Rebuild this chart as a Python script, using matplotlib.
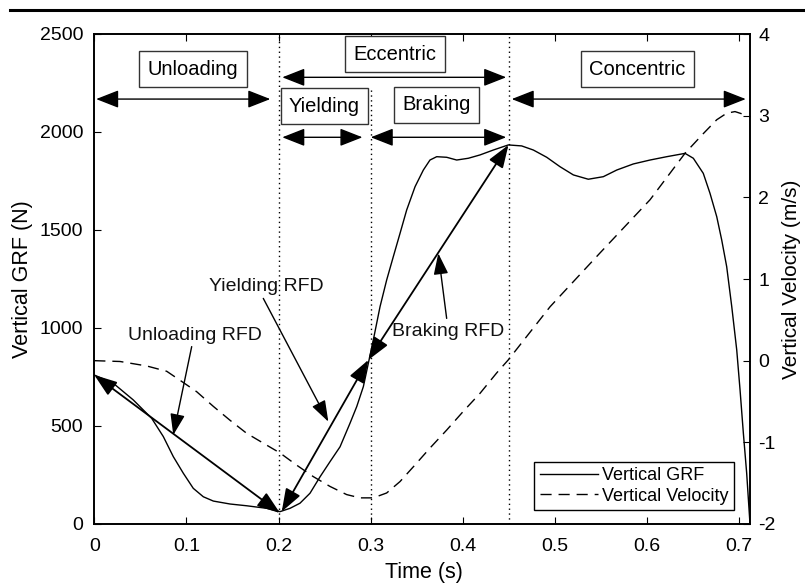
import matplotlib
matplotlib.use("Agg")
import matplotlib.pyplot as plt
from matplotlib.lines import Line2D

plt.rcParams['font.family'] = ['Liberation Sans', 'DejaVu Sans']
plt.rcParams['axes.unicode_minus'] = False

# ---- data ----
grf_t = [0.0, 0.0206, 0.0423, 0.0623, 0.0749, 0.0857, 0.0966, 0.1074, 0.1183, 0.1292,
         0.1473, 0.1654, 0.1871, 0.2015, 0.2124, 0.2232, 0.2341, 0.2450, 0.2558, 0.2667,
         0.2775, 0.2848, 0.2920, 0.2974, 0.3028, 0.3101, 0.3173, 0.3245, 0.3318, 0.3390,
         0.3481, 0.3571, 0.3643, 0.3716, 0.3824, 0.3933, 0.4059, 0.4186, 0.4330, 0.4493,
         0.4638, 0.4765, 0.4910, 0.5054, 0.5199, 0.5361, 0.5524, 0.5670, 0.5850, 0.6031,
         0.6212, 0.6411, 0.6501, 0.6609, 0.6682, 0.6755, 0.6809, 0.6863, 0.6918, 0.6972,
         0.7008, 0.7044, 0.7080, 0.7116]
grf_v = [760, 718, 633, 539, 446, 344, 259, 182, 139, 117,
         102, 93, 80, 63, 80, 106, 157, 241, 318, 394,
         514, 599, 701, 820, 939, 1109, 1245, 1364, 1483, 1602,
         1721, 1806, 1857, 1874, 1871, 1857, 1866, 1883, 1908, 1934,
         1929, 1908, 1871, 1823, 1781, 1759, 1772, 1806, 1837, 1857,
         1874, 1891, 1866, 1789, 1687, 1568, 1449, 1313, 1109, 888,
         684, 463, 259, 0]

vel_t = [0.0, 0.0279, 0.0569, 0.0786, 0.0930, 0.1111, 0.1292, 0.1473, 0.1654, 0.1834,
         0.2015, 0.2197, 0.2377, 0.2558, 0.2739, 0.2884, 0.3028, 0.3173, 0.3318, 0.3462,
         0.3643, 0.3824, 0.4005, 0.4186, 0.4367, 0.4493, 0.4946, 0.5489, 0.6031, 0.6411,
         0.6609, 0.6755, 0.6863, 0.6953, 0.7062]
vel_v = [0.0, -0.01, -0.065, -0.13, -0.24, -0.38, -0.56, -0.73, -0.89, -1.01,
         -1.13, -1.28, -1.42, -1.54, -1.64, -1.68, -1.68, -1.62, -1.48, -1.30,
         -1.07, -0.85, -0.62, -0.40, -0.15, 0.01, 0.66, 1.32, 1.97, 2.54,
         2.78, 2.95, 3.03, 3.05, 3.01]

phase_lines = [0.2, 0.3, 0.45]
phase_tops = [2500, 2220, 2500]

x_ticks = [0, 0.1, 0.2, 0.3, 0.4, 0.5, 0.6, 0.7]
x_tick_labels = ["0", "0.1", "0.2", "0.3", "0.4", "0.5", "0.6", "0.7"]
y_ticks = [0, 500, 1000, 1500, 2000, 2500]
v_ticks = [-2, -1, 0, 1, 2, 3, 4]

# phase boxes: (label, x, y)
boxes = [("Unloading", 0.1073, 2321), ("Eccentric", 0.3264, 2396),
         ("Yielding", 0.2498, 2131), ("Braking", 0.3716, 2138),
         ("Concentric", 0.5895, 2321)]
# phase double arrows: (x0, x1, y)
spans = [(0.002, 0.191, 2168), (0.204, 0.447, 2279), (0.204, 0.291, 1973),
         (0.300, 0.447, 1973), (0.453, 0.707, 2168)]
# RFD double arrows: (x0, y0, x1, y1)
rfd = [(0.0, 760, 0.2015, 56), (0.2034, 63, 0.2974, 837), (0.2974, 837, 0.4495, 1934)]
# RFD labels: (label, text x, text y, tail x, tail y, tip x, tip y)
rfd_labels = [("Unloading RFD", 0.1093, 964, 0.1057, 905, 0.0857, 454),
              ("Yielding RFD", 0.1871, 1214, 0.1834, 1151, 0.254, 522),
              ("Braking RFD", 0.3842, 981, 0.3824, 1049, 0.3733, 1381)]

# ---- figure ----
fig = plt.figure(figsize=(8.05, 5.84), dpi=100)
ax = fig.add_axes([94.3/805, 1-524/584, (750-94.3)/805, (524-34)/584])
ax2 = ax.twinx()

l1, = ax.plot(grf_t, grf_v, color='black', lw=1.0, label='Vertical GRF')
l2, = ax2.plot(vel_t, vel_v, color='black', lw=1.0, ls=(0, (8, 5)), label='Vertical Velocity')

for x, top in zip(phase_lines, phase_tops):
    ax.plot([x, x], [0, top], color='black', lw=1.0, ls=(0, (1, 2.5)))

ax.set_xlim(0, 0.7116)
ax.set_ylim(0, 2500)
ax2.set_ylim(-2, 4)
ax.set_xticks(x_ticks)
ax.set_xticklabels(x_tick_labels)
ax.set_yticks(y_ticks)
ax2.set_yticks(v_ticks)

ax.tick_params(axis='x', direction='in', top=True, length=5, labelsize=14, pad=10)
ax.tick_params(axis='y', direction='in', right=False, length=5, labelsize=14, pad=8)
ax2.tick_params(axis='y', direction='in', length=5, labelsize=14, pad=6)

for a in (ax, ax2):
    for s in a.spines.values():
        s.set_linewidth(1.2)

ax.set_xlabel("Time (s)", fontsize=15.5)
ax.set_ylabel("Vertical GRF (N)", fontsize=15.5)
ax2.set_ylabel("Vertical Velocity (m/s)", fontsize=15)
ax.xaxis.set_label_coords((424-94.3)/655.7, -(562-524)/490)
ax.yaxis.set_label_coords(-(94.3-33)/655.7, 0.5)
ax2.yaxis.set_label_coords(1+(782-750)/655.7, 0.5)

for lab, x, y in boxes:
    ax.text(x, y, lab, fontsize=14.5, ha='center', va='center', zorder=5,
            bbox=dict(boxstyle='square,pad=0.42', fc='white', ec='#333333', lw=1.0))

for x0, x1, y in spans:
    ax.annotate("", xy=(x1, y), xytext=(x0, y),
                arrowprops=dict(arrowstyle='<|-|>,head_length=1.4,head_width=0.55',
                                color='black', lw=1.0, shrinkA=0, shrinkB=0))

for x0, y0, x1, y1 in rfd:
    ax.annotate("", xy=(x1, y1), xytext=(x0, y0),
                arrowprops=dict(arrowstyle='<|-|>,head_length=1.4,head_width=0.5',
                                color='black', lw=1.3, shrinkA=0, shrinkB=0))

for lab, tx, ty, x0, y0, x1, y1 in rfd_labels:
    ax.text(tx, ty, lab, fontsize=14, ha='center', va='center', color='#111111')
    ax.annotate("", xy=(x1, y1), xytext=(x0, y0),
                arrowprops=dict(arrowstyle='-|>,head_length=1.3,head_width=0.45',
                                color='black', lw=1.0, shrinkA=0, shrinkB=0))

leg = ax.legend(handles=[l1, l2], loc='lower right',
                bbox_to_anchor=((734-94.3)/655.7, (524-510)/490), borderaxespad=0,
                fontsize=13, frameon=True, fancybox=False, framealpha=1,
                edgecolor='black', handlelength=3.2, handletextpad=0.25,
                borderpad=0.3, labelspacing=0.2)
leg.get_frame().set_linewidth(1.0)
leg.set_zorder(10)

fig.add_artist(Line2D([10/805, 1.0], [1-10/584, 1-10/584], color='black', lw=2.2))

fig.savefig("out.png", dpi=100)
